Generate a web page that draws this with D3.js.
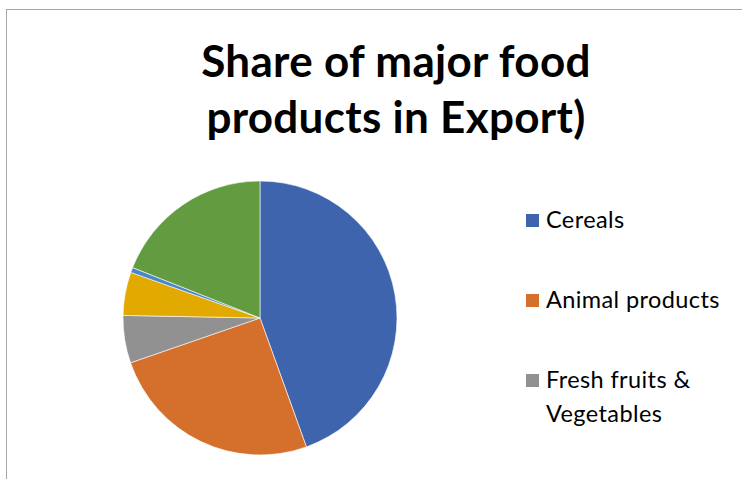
<!DOCTYPE html>
<html>
<head>
<meta charset="utf-8">
<script src="https://cdn.jsdelivr.net/npm/d3@7"></script>
<style>
  body { margin: 0; background: #fff; }
  svg { display: block; }
</style>
</head>
<body>
<div id="app"></div>
<script>
const width = 742
const height = 479

// data (percent of export)
const categories = ["Cereals", "Animal products", "Fresh fruits & Vegetables", "Processed fruits & Vegetables", "Other processed food", "Others"]
const values = [44.5, 25.2, 5.6, 5.1, 0.6, 19.0]
const colors = ["#3D64AC", "#D4702B", "#919191", "#E2AA00", "#4A86C8", "#629B40"]
const legendLines = [["Cereals"], ["Animal products"], ["Fresh fruits &", "Vegetables"]]
const titleLines = ["Share of major food", "products in Export)"]

const svg = d3.select('#app').append('svg')
    .attr('width', width)
    .attr('height', height)

// chart frame (right and bottom run off the page)
svg.append('rect')
    .attr('x', 6.5)
    .attr('y', 9.5)
    .attr('width', width + 20)
    .attr('height', height + 20)
    .attr('fill', 'none')
    .attr('stroke', '#a6a6a6')
    .attr('stroke-width', 1)

svg.append('text')
    .attr('text-anchor', 'middle')
    .attr('font-family', 'Lato, sans-serif')
    .attr('font-weight', 'bold')
    .attr('font-size', 44)
    .attr('letter-spacing', 0.3)
    .attr('fill', '#000')
    .selectAll('tspan')
    .data(titleLines)
    .join('tspan')
    .attr('x', 396)
    .attr('y', (d, i) => 77 + i * 56)
    .text(d => d)

const color = d3.scaleOrdinal().domain(categories).range(colors)

const pie = d3.pie().sort(null).value((d, i) => values[i])
const arc = d3.arc().innerRadius(0).outerRadius(137)

svg.append('g')
    .attr('transform', 'translate(260,318)')
    .selectAll('path')
    .data(pie(categories))
    .join('path')
    .attr('d', arc)
    .attr('fill', d => color(d.data))
    .attr('stroke', '#fff')
    .attr('stroke-width', 0.6)

// legend, only the first three entries fit
const legend = svg.append('g')
    .selectAll('g')
    .data(legendLines)
    .join('g')
    .attr('transform', (d, i) => `translate(526,${228 + i * 80})`)

legend.append('rect')
    .attr('x', 0)
    .attr('y', -14)
    .attr('width', 13)
    .attr('height', 13)
    .attr('fill', (d, i) => colors[i])

legend.append('text')
    .attr('font-family', 'Lato, sans-serif')
    .attr('font-size', 23.5)
    .attr('letter-spacing', 0.4)
    .attr('fill', '#000')
    .selectAll('tspan')
    .data(d => d)
    .join('tspan')
    .attr('x', 20)
    .attr('y', (d, i) => i * 34)
    .text(d => d)
</script>
</body>
</html>
